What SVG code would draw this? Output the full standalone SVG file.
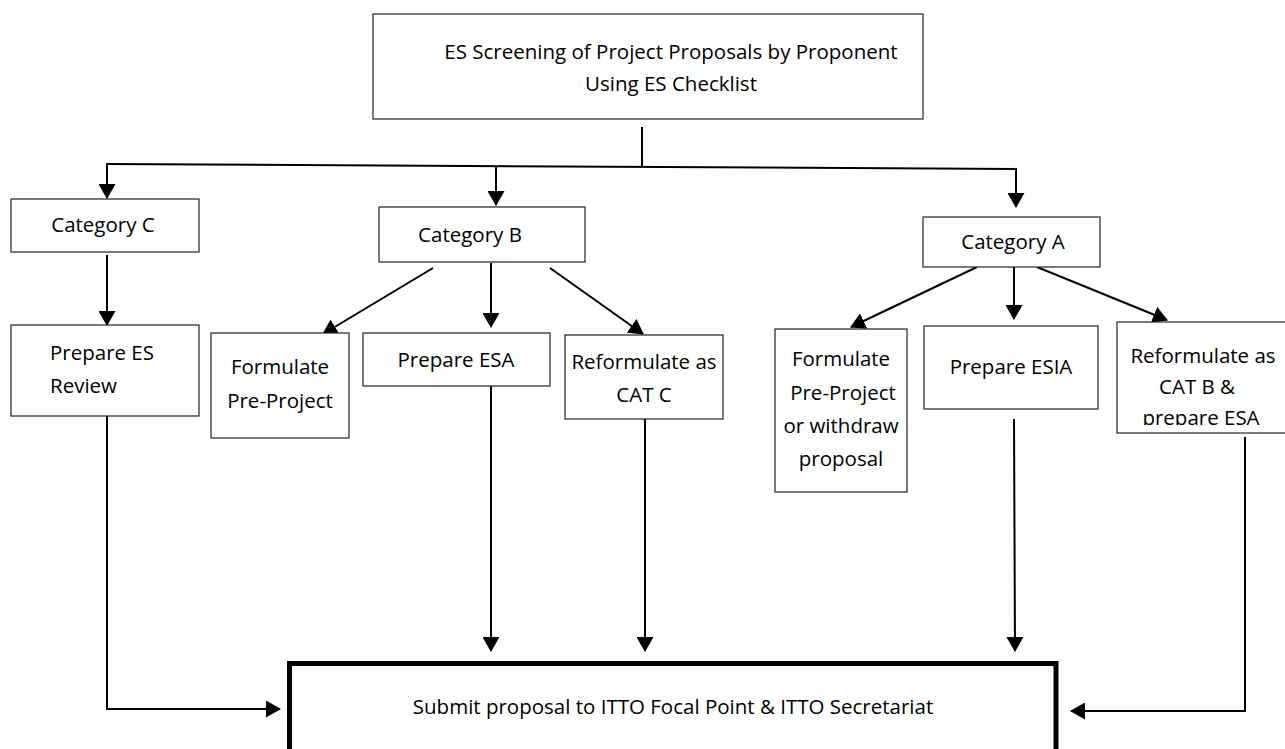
<svg xmlns="http://www.w3.org/2000/svg" width="1285" height="749" viewBox="0 0 1285 749">
<style>
.box{fill:#fff;stroke:#222;stroke-width:1.2}
.main{fill:#fff;stroke:#000;stroke-width:5}
.t{font-family:"Open Sans","Liberation Sans",sans-serif;font-size:20.5px;fill:#000;text-anchor:middle}
.tl{text-anchor:start}
.c{fill:none;stroke:#000;stroke-width:2}
.a{marker-end:url(#ah)}
</style>
<defs>
<marker id="ah" viewBox="0 0 15 17" refX="14" refY="8.5" markerWidth="15" markerHeight="17" markerUnits="userSpaceOnUse" orient="auto">
<path d="M0,0 L15,8.5 L0,17 z" fill="#000"/>
</marker>
<clipPath id="clipB"><rect x="1117" y="322" width="172" height="103"/></clipPath>
</defs>
<rect width="1285" height="749" fill="#fff"/>

<g id="connectors">
<line class="c" x1="642" y1="127" x2="642" y2="167"/>
<line class="c" x1="106" y1="164" x2="1017" y2="169"/>
<line class="c a" x1="107" y1="164" x2="107" y2="198"/>
<line class="c a" x1="496" y1="166" x2="496" y2="205"/>
<line class="c a" x1="1016" y1="169" x2="1016" y2="207"/>
<line class="c a" x1="107" y1="255" x2="107" y2="325"/>
<line class="c a" x1="433" y1="268" x2="323" y2="334"/>
<line class="c a" x1="491" y1="263" x2="491" y2="327"/>
<line class="c a" x1="550" y1="268" x2="643" y2="334"/>
<line class="c a" x1="977" y1="267" x2="851" y2="327"/>
<line class="c a" x1="1014" y1="267" x2="1014" y2="319"/>
<line class="c a" x1="1037" y1="267" x2="1167" y2="320"/>
<polyline class="c a" points="107,416 107,709 280,709"/>
<line class="c a" x1="491" y1="386" x2="491" y2="651"/>
<line class="c a" x1="645" y1="419" x2="645" y2="651"/>
<line class="c a" x1="1014" y1="419" x2="1015" y2="651"/>
<polyline class="c a" points="1245,437 1245,711 1071,711"/>
</g>

<g id="n-screening">
<rect class="box" x="373" y="14" width="550" height="105"/>
<text class="t" x="671" y="59">ES Screening of Project Proposals by Proponent</text>
<text class="t" x="671" y="91">Using ES Checklist</text>
</g>
<g id="n-catC">
<rect class="box" x="11" y="199" width="188" height="53"/>
<text class="t" x="103" y="232">Category C</text>
</g>
<g id="n-esreview">
<rect class="box" x="11" y="325" width="188" height="91"/>
<text class="t tl" x="50" y="360">Prepare ES</text>
<text class="t tl" x="50" y="393">Review</text>
</g>
<g id="n-catB">
<rect class="box" x="379" y="207" width="206" height="55"/>
<text class="t" x="470" y="242">Category B</text>
</g>
<g id="n-preproj">
<rect class="box" x="211" y="333" width="138" height="105"/>
<text class="t" x="280" y="374">Formulate</text>
<text class="t" x="280" y="408">Pre-Project</text>
</g>
<g id="n-esa">
<rect class="box" x="363" y="333" width="187" height="53"/>
<text class="t" x="456" y="367">Prepare ESA</text>
</g>
<g id="n-catc-reform">
<rect class="box" x="565" y="335" width="158" height="84"/>
<text class="t" x="644" y="369">Reformulate as</text>
<text class="t" x="644" y="402">CAT C</text>
</g>
<g id="n-catA">
<rect class="box" x="923" y="217" width="177" height="50"/>
<text class="t" x="1013" y="249">Category A</text>
</g>
<g id="n-withdraw">
<rect class="box" x="775" y="329" width="132" height="163"/>
<text class="t" x="841" y="366">Formulate</text>
<text class="t" x="843" y="400">Pre-Project</text>
<text class="t" x="841" y="433">or withdraw</text>
<text class="t" x="841" y="466">proposal</text>
</g>
<g id="n-esia">
<rect class="box" x="924" y="326" width="174" height="83"/>
<text class="t" x="1011" y="374">Prepare ESIA</text>
</g>
<g id="n-catb-reform">
<rect class="box" x="1117" y="322" width="172" height="111"/>
<g clip-path="url(#clipB)">
<text class="t" x="1203" y="363">Reformulate as</text>
<text class="t" x="1197" y="394">CAT B &amp;</text>
<text class="t" x="1201" y="425">prepare ESA</text>
</g>
</g>
<g id="n-submit">
<rect class="main" x="289.5" y="663.5" width="766.5" height="100"/>
<text class="t" x="673" y="714">Submit proposal to ITTO Focal Point &amp; ITTO Secretariat</text>
</g>
</svg>
